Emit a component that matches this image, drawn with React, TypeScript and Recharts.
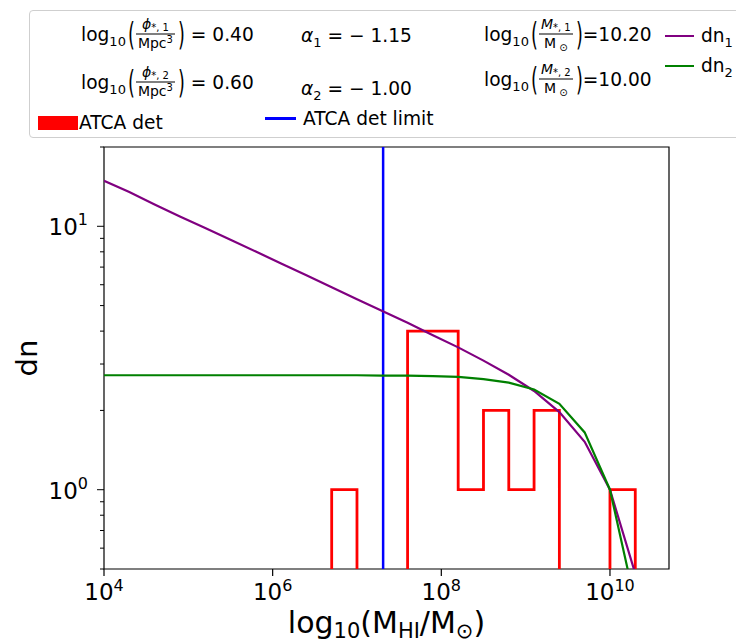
import React from "react";
import { LineChart, Line, XAxis, YAxis, ReferenceLine, ReferenceArea } from "recharts";

// log10(M_HI) sample points of the two model curves
const curveLogM = [4.0, 4.3, 4.6, 4.9, 5.2, 5.5, 5.8, 6.1, 6.4, 6.7, 7.0, 7.3, 7.6, 7.9, 8.2, 8.5, 8.8, 9.1, 9.4, 9.7, 10.0, 10.3];
const dn1Values = [14.9, 13.5, 12.1, 10.9, 9.86, 8.89, 8.02, 7.23, 6.52, 5.87, 5.29, 4.77, 4.3, 3.86, 3.47, 3.09, 2.73, 2.37, 1.97, 1.52, 1.0, 0.48];
const dn2Values = [2.72, 2.72, 2.72, 2.72, 2.72, 2.72, 2.72, 2.72, 2.72, 2.72, 2.72, 2.71, 2.71, 2.7, 2.68, 2.63, 2.55, 2.4, 2.12, 1.65, 1.0, 0.37];

// ATCA detections histogram
const histEdges = [6.7, 7.0, 7.3, 7.6, 7.9, 8.2, 8.5, 8.8, 9.1, 9.4, 9.7, 10.0, 10.3];
const histCounts = [1, 0, 0, 4, 4, 1, 2, 1, 2, 0, 0, 1];

const detLimit = 7.31;

const xTicks = [4, 6, 8, 10];
const yTicks = [0.5, 0.6, 0.7, 0.8, 0.9, 1, 2, 3, 4, 5, 6, 7, 8, 9, 10, 20];
const yMajor = [1, 10];

const FONT = "'DejaVu Sans', sans-serif";
const EMPTY = 0.01; // empty bins drop below the axis

const dn1Data = curveLogM.map((x, i) => ({ x, y: dn1Values[i] }));
const dn2Data = curveLogM.map((x, i) => ({ x, y: dn2Values[i] }));
const histData = [
  { x: histEdges[0], y: EMPTY },
  ...histCounts.map((c, i) => ({ x: histEdges[i], y: c > 0 ? c : EMPTY })),
  { x: histEdges[histEdges.length - 1], y: EMPTY },
];

const XTick = (props: any) => {
  const { x, y, payload } = props;
  return (
    <g>
      <line x1={x} x2={x} y1={y} y2={y + 7} stroke="#000" strokeWidth={1.2} />
      <text x={x} y={y + 31} textAnchor="middle" fontSize={23} fontFamily={FONT} fill="#000">
        <tspan>10</tspan>
        <tspan dy={-9} fontSize={16}>{payload.value}</tspan>
      </text>
    </g>
  );
};

const YTick = (props: any) => {
  const { x, y, payload } = props;
  const v = payload.value;
  const major = yMajor.includes(v);
  return (
    <g>
      <line x1={x} x2={x - (major ? 7 : 4)} y1={y} y2={y} stroke="#000" strokeWidth={1} />
      {major && (
        <text x={x - 16} y={y + 9} textAnchor="end" fontSize={23} fontFamily={FONT} fill="#000">
          <tspan>10</tspan>
          <tspan dy={-10} fontSize={16}>{Math.round(Math.log10(v))}</tspan>
        </text>
      )}
    </g>
  );
};

const XLabel = (props: any) => {
  const vb = props.viewBox;
  return (
    <text x={vb.x + vb.width / 2} y={vb.y + 64} textAnchor="middle" fontSize={30} fontFamily={FONT} fill="#000">
      <tspan>log</tspan>
      <tspan dy={5} fontSize={21}>10</tspan>
      <tspan dy={-5}>(M</tspan>
      <tspan dy={5} fontSize={21}>HI</tspan>
      <tspan dy={-5}>/M</tspan>
      <tspan dy={5} fontSize={21}>⊙</tspan>
      <tspan dy={-5}>)</tspan>
    </text>
  );
};

const YLabel = (props: any) => {
  const vb = props.viewBox;
  const cx = 37;
  const cy = vb.y + vb.height / 2;
  return (
    <text x={cx} y={cy} textAnchor="middle" fontSize={29} fontFamily={FONT} fill="#000" transform={`rotate(-90 ${cx} ${cy})`}>
      dn
    </text>
  );
};

function Paren({ c }: { c: string }) {
  return (
    <span style={{ display: "inline-block", fontSize: 32, lineHeight: "33px", width: 9, textAlign: "center", transform: "scaleX(0.55)" }}>
      {c}
    </span>
  );
}

function Frac({ num, den }: { num: React.ReactNode; den: React.ReactNode }) {
  return (
    <span style={{ display: "inline-flex", flexDirection: "column", alignItems: "center", fontSize: 14, lineHeight: "15px", margin: "0 1px" }}>
      <span style={{ padding: "0 2px 1px" }}>{num}</span>
      <span style={{ borderTop: "1.2px solid #000", alignSelf: "stretch", textAlign: "center", padding: "1px 2px 0" }}>{den}</span>
    </span>
  );
}

const sub = (t: string, top = 5, size = 13) => (
  <span style={{ fontSize: size, position: "relative", top }}>{t}</span>
);
const sup = (t: string) => <span style={{ fontSize: 10, position: "relative", top: -5 }}>{t}</span>;

function Item({ left, cy, children }: { left: number; cy: number; children: React.ReactNode }) {
  return (
    <div style={{ position: "absolute", left, top: cy, transform: "translateY(-50%)", display: "flex", alignItems: "center", whiteSpace: "nowrap", fontSize: 18.6, fontFamily: FONT, color: "#000" }}>
      {children}
    </div>
  );
}

function PhiItem({ left, cy, idx, val }: { left: number; cy: number; idx: string; val: string }) {
  return (
    <Item left={left} cy={cy}>
      <span>log{sub("10")}</span>
      <Paren c="(" />
      <Frac
        num={<><i>ϕ</i>{sub("*, ", 2, 10)}{sub(idx, 2, 10)}</>}
        den={<>Mpc{sup("3")}</>}
      />
      <Paren c=")" />
      <span>&nbsp;= {val}</span>
    </Item>
  );
}

function MassItem({ left, cy, idx, val }: { left: number; cy: number; idx: string; val: string }) {
  return (
    <Item left={left} cy={cy}>
      <span>log{sub("10")}</span>
      <Paren c="(" />
      <Frac
        num={<><i>M</i>{sub("*, ", 2, 10)}{sub(idx, 2, 10)}</>}
        den={<>M{sub(" ⊙", 3, 10)}</>}
      />
      <Paren c=")" />
      <span>={val}</span>
    </Item>
  );
}

function Legend() {
  return (
    <div style={{ position: "absolute", left: 29, top: 10, width: 760, height: 128, border: "1px solid #cfcfcf", borderRadius: 4, background: "rgba(255,255,255,0.8)", boxSizing: "border-box" }}>
      <div style={{ position: "absolute", left: -29, top: -10, width: 800, height: 140 }}>
        <PhiItem left={80} cy={33} idx="1" val="0.40" />
        <PhiItem left={80} cy={81} idx="2" val="0.60" />
        <div style={{ position: "absolute", left: 37, top: 115, width: 40, height: 14, background: "#ff0000" }} />
        <Item left={78} cy={121}>ATCA det</Item>

        <Item left={300} cy={34}>
          <span><i>α</i>{sub("1")} = − 1.15</span>
        </Item>
        <Item left={300} cy={87}>
          <span><i>α</i>{sub("2")} = − 1.00</span>
        </Item>
        <div style={{ position: "absolute", left: 264, top: 116, width: 31, height: 2.5, background: "#0000ff" }} />
        <Item left={302} cy={117}>ATCA det limit</Item>

        <MassItem left={483} cy={33} idx="1" val="10.20" />
        <MassItem left={483} cy={78} idx="2" val="10.00" />

        <div style={{ position: "absolute", left: 664, top: 34, width: 29, height: 2, background: "#800080" }} />
        <Item left={700} cy={34}>
          <span>dn{sub("1")}</span>
        </Item>
        <div style={{ position: "absolute", left: 664, top: 64, width: 29, height: 2, background: "#008000" }} />
        <Item left={700} cy={64}>
          <span>dn{sub("2")}</span>
        </Item>
      </div>
    </div>
  );
}

export default function App() {
  return (
    <div style={{ position: "absolute", left: 0, top: 0, width: 736, height: 642, overflow: "hidden", background: "#fff" }}>
      <LineChart width={736} height={642} margin={{ top: 147, right: 67, bottom: 0, left: 0 }}>
        <XAxis
          type="number"
          dataKey="x"
          domain={[4, 10.7]}
          allowDataOverflow
          ticks={xTicks}
          interval={0}
          tick={<XTick />}
          tickLine={false}
          axisLine={false}
          tickSize={0}
          tickMargin={0}
          height={73}
          label={<XLabel />}
        />
        <YAxis
          type="number"
          scale="log"
          domain={[0.5, 20]}
          allowDataOverflow
          ticks={yTicks}
          interval={0}
          tick={<YTick />}
          tickLine={false}
          axisLine={false}
          tickSize={0}
          tickMargin={0}
          width={104}
          label={<YLabel />}
        />
        <ReferenceLine x={detLimit} stroke="#0000ff" strokeWidth={2.5} />
        <Line data={histData} dataKey="y" type="stepAfter" stroke="#ff0000" strokeWidth={2.8} dot={false} isAnimationActive={false} />
        <Line data={dn1Data} dataKey="y" type="linear" stroke="#800080" strokeWidth={2.2} dot={false} isAnimationActive={false} />
        <Line data={dn2Data} dataKey="y" type="linear" stroke="#008000" strokeWidth={2.2} dot={false} isAnimationActive={false} />
        <ReferenceArea x1={4} x2={10.7} y1={0.5} y2={20} fill="none" stroke="#000" strokeWidth={1.2} />
      </LineChart>
      <Legend />
    </div>
  );
}
